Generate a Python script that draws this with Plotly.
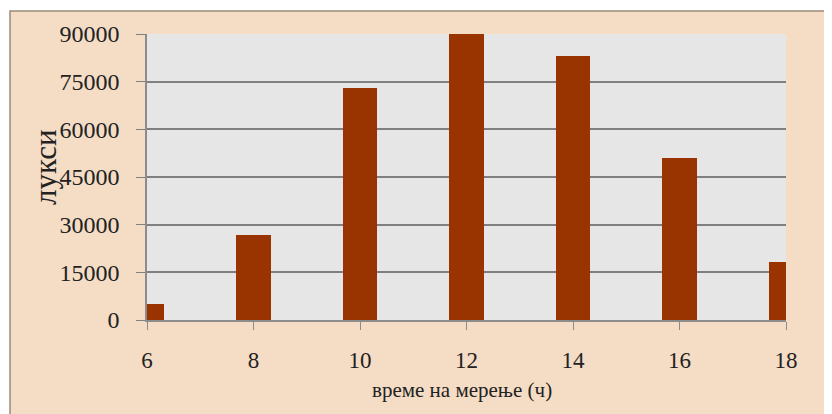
import plotly.graph_objects as go

# measurement hours and illuminance (lux)
hours = [6, 8, 10, 12, 14, 16, 18]
lux = [5000, 26700, 73000, 90000, 83000, 51000, 18300]
y_ticks = [0, 15000, 30000, 45000, 60000, 75000, 90000]
y_labels = ['0', '15000', '30000', '45000', '60000', '75000', '90000']
x_ticks = [6, 8, 10, 12, 14, 16, 18]

# the page body adds an 8px margin, so the figure is drawn 8px smaller
OFF = 8
W, H = 832 - OFF, 414 - OFF
ML, MR, MT, MB = 147 - OFF, 46, 34 - OFF, 94
PW, PH = W - ML - MR, H - MT - MB


# helpers: screen pixel -> paper coordinate
def px(x):
    return (x - OFF - ML) / PW


def py(y):
    return (H - MB - (y - OFF)) / PH


fig = go.Figure()
fig.add_trace(go.Bar(x=hours, y=lux, width=0.64, marker_color='#993300',
                     marker_line_width=0))

# wooden chart frame behind everything
fig.add_shape(type='rect', xref='paper', yref='paper', layer='below',
              x0=px(10), x1=px(850), y0=py(11), y1=py(430),
              fillcolor='#f4dcc5', line=dict(color='#9a8a7c', width=1.5))
fig.add_shape(type='rect', xref='paper', yref='paper', layer='below',
              x0=0, x1=1, y0=0, y1=1, fillcolor='#e6e6e6', line_width=0)

fig.add_annotation(text='лукси', xref='paper', yref='paper', x=px(45), y=py(167),
                   xanchor='center', yanchor='middle',
                   textangle=-90, showarrow=False,
                   font=dict(family='Liberation Serif', size=31, color='#222'))
fig.add_annotation(text='време на мерење (ч)', xref='paper', yref='paper',
                   x=px(462), y=py(390), showarrow=False,
                   xanchor='center', yanchor='middle',
                   font=dict(family='Liberation Serif', size=21, color='#222'))

fig.update_layout(
    width=W, height=H, margin=dict(l=ML, r=MR, t=MT, b=MB),
    paper_bgcolor='white', plot_bgcolor='rgba(0,0,0,0)',
    showlegend=False, bargap=0,
    font=dict(family='Liberation Serif', size=24, color='#222'),
    xaxis=dict(range=[6, 18], tickvals=x_ticks, showgrid=False, zeroline=False,
               showline=True, linecolor='#8c8c8c', linewidth=1.5,
               ticks='outside', ticklen=8, tickcolor='#8c8c8c',
               tickfont=dict(size=23), ticklabelstandoff=11),
    yaxis=dict(range=[0, 90000], tickvals=y_ticks, ticktext=y_labels,
               showgrid=True, gridcolor='#808080', gridwidth=1.5, zeroline=False,
               showline=True, linecolor='#8c8c8c', linewidth=1.5,
               ticks='outside', ticklen=9, tickcolor='#808080',
               ticklabelstandoff=12),
)

fig.write_html("out.html")
